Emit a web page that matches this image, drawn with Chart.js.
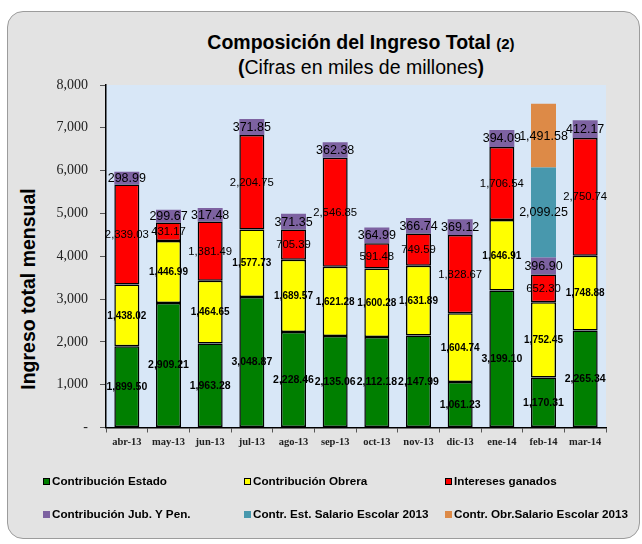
<!DOCTYPE html>
<html>
<head>
<meta charset="utf-8">
<script src="https://cdn.jsdelivr.net/npm/chart.js@4/dist/chart.umd.min.js"></script>
<style>
  html, body { margin: 0; padding: 0; background: #fff; }
  #wrap { position: relative; width: 642px; height: 544px; overflow: hidden; font-family: "Liberation Sans", Arial, sans-serif; }
  #panel { position: absolute; left: 7px; top: 11px; width: 631px; height: 526px; border: 1.5px solid #9c9c9c; border-radius: 16px; background: #e3e3e3; }
  #chart { position: absolute; left: 0; top: 0; }
  .title1 { position: absolute; left: 161px; width: 400px; top: 31px; text-align: center; font-weight: bold; font-size: 19.5px; color: #000; white-space: nowrap; }
  .title1 small { font-size: 15px; }
  .title2 { position: absolute; left: 161px; width: 400px; top: 56px; text-align: center; font-size: 19.5px; color: #000; white-space: nowrap; }
  .title2 b { font-weight: bold; }
  #ytitle { position: absolute; left: 28px; top: 289px; transform: translate(-50%, -50%) rotate(-90deg); font-weight: bold; font-size: 19.5px; white-space: nowrap; color: #000; }
  .leg { position: absolute; font-weight: bold; font-size: 11.7px; color: #000; white-space: nowrap; line-height: 14px; }
  .leg i { position: absolute; left: -9px; top: 3.5px; width: 7px; height: 7px; box-sizing: border-box; }
</style>
</head>
<body>
<div id="wrap">
  <div id="panel"></div>
  <div class="title1">Composición del Ingreso Total <small>(2)</small></div>
  <div class="title2"><b>(</b>Cifras en miles de millones<b>)</b></div>
  <div id="ytitle">Ingreso total mensual</div>
  <canvas id="chart" width="642" height="544"></canvas>
  <div id="legend"></div>
</div>
<script>
// categories
const months = ['abr-13', 'may-13', 'jun-13', 'jul-13', 'ago-13', 'sep-13', 'oct-13', 'nov-13', 'dic-13', 'ene-14', 'feb-14', 'mar-14'];

// series (miles de millones)
const contribEstado = [1899.50, 2909.21, 1963.28, 3048.87, 2228.46, 2135.06, 2112.18, 2147.99, 1061.23, 3199.10, 1170.31, 2265.34];
const contribObrera = [1438.02, 1446.99, 1464.65, 1577.73, 1689.57, 1621.28, 1600.28, 1631.89, 1604.74, 1646.91, 1752.45, 1748.88];
const interesesGanados = [2339.03, 431.17, 1381.49, 2204.75, 705.39, 2546.85, 591.48, 749.59, 1828.67, 1706.54, 652.30, 2750.74];
const contribJubPen = [298.99, 299.67, 317.48, 371.85, 371.35, 362.38, 364.99, 366.74, 369.12, 394.09, 396.90, 412.17];
const estSalarioEscolar = [0, 0, 0, 0, 0, 0, 0, 0, 0, 0, 2099.25, 0];
const obrSalarioEscolar = [0, 0, 0, 0, 0, 0, 0, 0, 0, 0, 1491.58, 0];

// y axis ticks
const yTicks = [0, 1000, 2000, 3000, 4000, 5000, 6000, 7000, 8000];

const fmt = v => v.toLocaleString('en-US', { minimumFractionDigits: 2, maximumFractionDigits: 2 });

const series = [
    { label: 'Contribución Estado', data: contribEstado, color: '#007f00', border: true, font: 'bold 10.5px "Liberation Sans", Arial' },
    { label: 'Contribución Obrera', data: contribObrera, color: '#ffff00', border: true, font: 'bold 10px "Liberation Sans", Arial' },
    { label: 'Intereses ganados', data: interesesGanados, color: '#ff0000', border: true, font: '11.3px "Liberation Sans", Arial' },
    { label: 'Contribución Jub. Y Pen.', data: contribJubPen, color: '#7d62a1', border: false, font: '12.5px "Liberation Sans", Arial' },
    { label: 'Contr. Est. Salario Escolar 2013', data: estSalarioEscolar, color: '#4898ad', border: false, font: '12.5px "Liberation Sans", Arial' },
    { label: 'Contr. Obr.Salario Escolar 2013', data: obrSalarioEscolar, color: '#dd8a47', border: false, font: '12.5px "Liberation Sans", Arial' }
];

// light blue plot area
const plotBackground = {
    id: 'plotBackground',
    beforeDraw(chart) {
        const a = chart.chartArea;
        const ctx = chart.ctx;
        ctx.save();
        ctx.fillStyle = '#d8e7f7';
        ctx.fillRect(a.left, a.top, a.right - a.left, a.bottom - a.top);
        ctx.restore();
    }
};

// value labels centred in each segment
const segmentLabels = {
    id: 'segmentLabels',
    afterDatasetsDraw(chart) {
        const ctx = chart.ctx;
        ctx.save();
        ctx.textAlign = 'center';
        ctx.textBaseline = 'middle';
        ctx.fillStyle = '#000';
        chart.data.datasets.forEach((ds, i) => {
            const meta = chart.getDatasetMeta(i);
            ctx.font = series[i].font;
            meta.data.forEach((bar, j) => {
                const v = ds.data[j];
                if (!v) return;
                ctx.fillText(fmt(v), bar.x, (bar.y + bar.base) / 2 + 0.5);
            });
        });
        ctx.restore();
    }
};

new Chart(document.getElementById('chart').getContext('2d'), {
    type: 'bar',
    data: {
        labels: months,
        datasets: series.map(s => ({
            label: s.label,
            data: s.data,
            backgroundColor: s.color,
            borderColor: '#000',
            borderWidth: s.border ? 1.5 : 0,
            borderSkipped: false,
            barPercentage: 0.6,
            categoryPercentage: 1.0
        }))
    },
    options: {
        responsive: false,
        animation: false,
        layout: { padding: { left: 0, top: 85, right: 36, bottom: 86.5 } },
        plugins: { legend: { display: false }, tooltip: { enabled: false }, title: { display: false } },
        scales: {
            x: {
                stacked: true,
                afterFit: axis => { axis.height = 30; },
                border: { display: true, color: '#000', width: 1.5 },
                grid: { offset: true, drawOnChartArea: false, drawTicks: true, tickLength: 5, color: '#555' },
                ticks: { color: '#222', padding: 3, font: { family: '"Liberation Serif", serif', weight: 'bold', size: 10.5 } }
            },
            y: {
                stacked: true,
                min: yTicks[0],
                max: yTicks[yTicks.length - 1],
                afterFit: axis => { axis.width = 106; },
                afterBuildTicks: axis => { axis.ticks = yTicks.map(v => ({ value: v })); },
                border: { display: true, color: '#000', width: 1.5 },
                grid: { drawOnChartArea: false, drawTicks: true, tickLength: 6, color: '#555' },
                ticks: {
                    color: '#222',
                    padding: 12,
                    font: { family: '"Liberation Serif", serif', size: 14 },
                    callback: v => v === 0 ? '-' : v.toLocaleString('en-US')
                }
            }
        }
    },
    plugins: [plotBackground, segmentLabels]
});

// legend, 3 columns x 2 rows
const legendPos = [[52, 474], [253, 474], [454, 474], [52, 507], [253, 507], [454, 507]];
const legend = document.getElementById('legend');
series.forEach((s, i) => {
    const d = document.createElement('div');
    d.className = 'leg';
    d.style.left = legendPos[i][0] + 'px';
    d.style.top = legendPos[i][1] + 'px';
    const border = s.border ? 'border:1.2px solid #000;' : '';
    d.innerHTML = '<i style="background:' + s.color + ';' + border + '"></i>' + s.label;
    legend.appendChild(d);
});
</script>
</body>
</html>
